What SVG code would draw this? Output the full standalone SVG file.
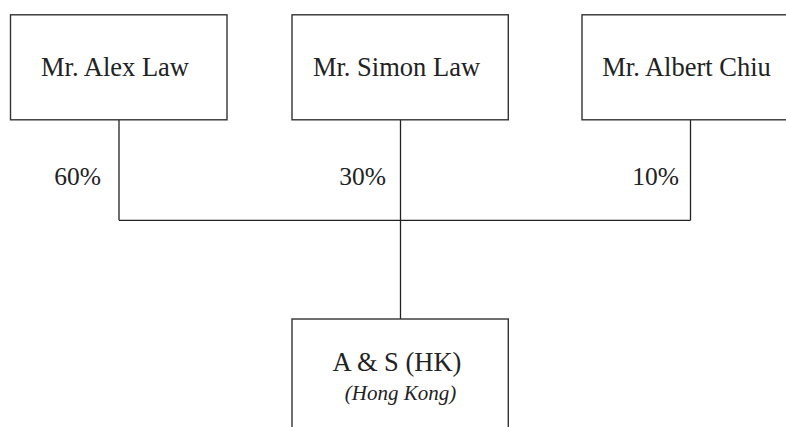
<svg xmlns="http://www.w3.org/2000/svg" width="786" height="427" viewBox="0 0 786 427">
<style>
.box{fill:#fff;stroke:#333;stroke-width:1.4}
.lbl{font-family:"Liberation Serif","Times New Roman",serif;font-size:26.5px;fill:#222;text-anchor:middle}
.sub{font-family:"Liberation Serif","Times New Roman",serif;font-size:21px;font-style:italic;fill:#222;text-anchor:middle}
.pct{font-family:"Liberation Serif","Times New Roman",serif;font-size:25.5px;fill:#222;text-anchor:end}
.ln{fill:none;stroke:#222;stroke-width:1.3}
</style>
<rect width="786" height="427" fill="#fff"/>
<g id="connectors">
<path class="ln" d="M119 120V220.3M400.5 120V319M690.5 120V220.3M119 220.3H690.5"/>
<text class="pct" x="101" y="185">60%</text>
<text class="pct" x="386" y="185">30%</text>
<text class="pct" x="679" y="185">10%</text>
</g>
<g id="alex">
<rect class="box" x="10.5" y="14.8" width="216.5" height="105"/>
<text class="lbl" x="115" y="76">Mr. Alex Law</text>
</g>
<g id="simon">
<rect class="box" x="292" y="14.8" width="216.3" height="105"/>
<text class="lbl" x="396.5" y="76">Mr. Simon Law</text>
</g>
<g id="albert">
<rect class="box" x="582" y="14.8" width="220" height="105"/>
<text class="lbl" x="686.5" y="76">Mr. Albert Chiu</text>
</g>
<g id="as-hk">
<rect class="box" x="292" y="319" width="216.3" height="130"/>
<text class="lbl" x="397" y="371">A &amp; S (HK)</text>
<text class="sub" x="400.5" y="400">(Hong Kong)</text>
</g>
</svg>
